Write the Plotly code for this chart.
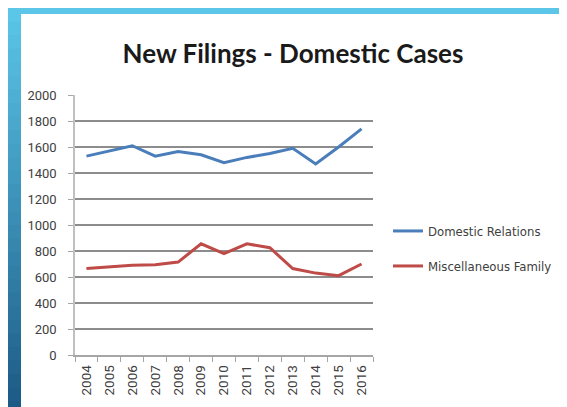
import plotly.graph_objects as go

# chart data
years = [str(y) for y in range(2004, 2017)]
domestic_relations = [1530, 1570, 1610, 1530, 1565, 1540, 1480, 1520, 1550, 1590, 1470, 1600, 1740]
misc_family = [665, 680, 690, 695, 715, 855, 780, 855, 825, 665, 630, 610, 700]
y_ticks = list(range(0, 2001, 200))

fig = go.Figure()
fig.add_trace(go.Scatter(x=years, y=domestic_relations, name="Domestic Relations", showlegend=True,
                         mode="lines", line=dict(color="#4A7EBB", width=3), legend="legend"))
fig.add_trace(go.Scatter(x=years, y=misc_family, name="Miscellaneous Family", showlegend=True,
                         mode="lines", line=dict(color="#BE4B48", width=3), legend="legend2"))

# slide border: blue gradient strip on the left, flat strip on top
W, H = 298, 260   # plot area size in px
L, B = 67, 60     # margins in px
def px_x(x):
    return (x - L) / W
def px_y(y):
    return (407 - B - y) / H

shapes = []
n = 30
for i in range(n):
    t = i / (n - 1)
    r = int(0x5B + (0x1C - 0x5B) * t)
    g = int(0xC6 + (0x5A - 0xC6) * t)
    b = int(0xE8 + (0x86 - 0xE8) * t)
    shapes.append(dict(type="rect", xref="paper", yref="paper", layer="below",
                       x0=px_x(0), x1=px_x(13),
                       y0=px_y(407 * (i + 1) / n + 1), y1=px_y(407 * i / n),
                       fillcolor=f"rgb({r},{g},{b})", line=dict(width=0)))
shapes.append(dict(type="rect", xref="paper", yref="paper", layer="below",
                   x0=px_x(0), x1=px_x(567), y0=px_y(6), y1=px_y(0),
                   fillcolor="#5BC6E8", line=dict(width=0)))

legend_style = dict(font=dict(family="DejaVu Sans Condensed, DejaVu Sans", size=13, color="#404040"),
                    bgcolor="rgba(0,0,0,0)", xanchor="left", yanchor="middle", itemwidth=30)

fig.update_layout(
    width=567, height=407,
    margin=dict(l=L, r=567 - L - W, t=407 - B - H, b=B),
    paper_bgcolor="white", plot_bgcolor="white",
    showlegend=True,
    title=dict(text="<b>New Filings - Domestic Cases</b>", x=px_x(285), xref="paper",
               xanchor="center", y=1 - 46 / 407, yanchor="middle",
               font=dict(family="Lato, Open Sans", size=26, color="#1a1a1a")),
    xaxis=dict(type="category", range=[-0.5, 12.5], showgrid=False, tickangle=-90,
               showline=True, linecolor="#A6A6A6", linewidth=1.5,
               ticks="outside", tickson="boundaries", ticklen=5, tickcolor="#A6A6A6",
               ticklabelstandoff=3,
               tickfont=dict(family="Roboto", size=13.5, color="#404040")),
    yaxis=dict(range=[0, 2000], tickvals=y_ticks, showgrid=True, gridcolor="#8C8C8C", gridwidth=1.5,
               zeroline=False, showline=True, linecolor="#BFBFBF", linewidth=1.5,
               ticks="outside", ticklen=5, tickcolor="#A6A6A6", ticklabelstandoff=9,
               tickfont=dict(family="Roboto", size=13, color="#404040")),
    legend=dict(x=px_x(380), y=px_y(223), **legend_style),
    legend2=dict(x=px_x(380), y=px_y(258), **legend_style),
    shapes=shapes,
)

fig.write_html("out.html")
